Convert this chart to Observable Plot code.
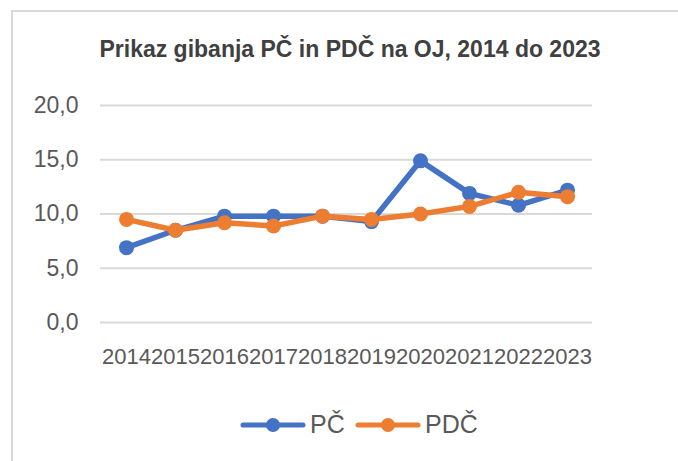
<!DOCTYPE html>
<html>
<head>
<meta charset="utf-8">
<script src="https://cdn.jsdelivr.net/npm/d3@7"></script>
<script src="https://cdn.jsdelivr.net/npm/@observablehq/plot@0.6"></script>
<style>
  html, body { margin: 0; padding: 0; background: #fff; overflow: hidden; }
  #wrap { position: relative; width: 678px; height: 461px; overflow: hidden; background: #fff; }
  #frame { position: absolute; left: 11px; top: 10px; width: 720px; height: 520px; border: 2px solid #d9d9d9; box-sizing: border-box; }
  #title { position: absolute; left: 0; width: 700px; top: 36px; text-align: center;
    font-family: "Liberation Sans", Arial, sans-serif; font-weight: bold; font-size: 23px; color: #404040; }
  #chart { position: absolute; left: 0; top: 0; }
  .item { position: absolute; top: 410px; display: flex; align-items: center;
    font-family: "Liberation Sans", Arial, sans-serif; font-size: 25px; color: #595959; }
  .item svg { margin-right: 4px; }
</style>
</head>
<body>
<div id="wrap">
  <div id="frame"></div>
  <div id="chart"></div>
  <div id="title">Prikaz gibanja PČ in PDČ na OJ, 2014 do 2023</div>
  <div id="legend"></div>
</div>
<script>
const years = ["2014","2015","2016","2017","2018","2019","2020","2021","2022","2023"];
const seriesNames = ["PČ", "PDČ"];
const seriesColors = ["#4472C4", "#ED7D31"];
const pcValues  = [6.9, 8.5, 9.8, 9.8, 9.8, 9.3, 14.9, 11.9, 10.8, 12.2];
const pdcValues = [9.5, 8.5, 9.2, 8.9, 9.8, 9.5, 10.0, 10.7, 12.0, 11.6];
const yTicks = [0, 5, 10, 15, 20];

const pc = years.map((y, i) => ({year: y, value: pcValues[i], series: seriesNames[0]}));
const pdc = years.map((y, i) => ({year: y, value: pdcValues[i], series: seriesNames[1]}));
const fmt = v => d3.format(".1f")(v).replace(".", ",");

const plot = Plot.plot({
  width: 678,
  height: 375,
  marginTop: 105,
  marginBottom: 53,
  marginLeft: 100,
  marginRight: 86,
  style: {fontFamily: '"Liberation Sans", Arial, sans-serif', fontSize: "22px", color: "#595959", background: "transparent", overflow: "visible"},
  x: {type: "point", domain: years, padding: 0.5},
  y: {domain: [0, 20]},
  color: {domain: seriesNames, range: seriesColors},
  marks: [
    Plot.ruleY(yTicks, {stroke: "#d9d9d9", strokeWidth: 2, strokeOpacity: 1}),
    Plot.axisY(yTicks, {tickSize: 0, tickPadding: 22, tickFormat: fmt, label: null, fontSize: 23}),
    Plot.axisX({tickSize: 0, tickPadding: 26, label: null, fontSize: 22}),
    Plot.line(pc, {x: "year", y: "value", stroke: "series", strokeWidth: 5.5}),
    Plot.dot(pc, {x: "year", y: "value", fill: "series", r: 7.5}),
    Plot.line(pdc, {x: "year", y: "value", stroke: "series", strokeWidth: 5.5}),
    Plot.dot(pdc, {x: "year", y: "value", fill: "series", r: 7.5})
  ]
});
document.getElementById("chart").appendChild(plot);

const legend = document.getElementById("legend");
const legendLeft = [240, 355];
seriesNames.forEach((name, i) => {
  const item = document.createElement("div");
  item.className = "item";
  item.style.left = legendLeft[i] + "px";
  item.innerHTML = `<svg width="66" height="20"><line x1="3" y1="10" x2="63" y2="10" stroke="${seriesColors[i]}" stroke-width="5" stroke-linecap="round"/><circle cx="33" cy="10" r="7" fill="${seriesColors[i]}"/></svg><span>${name}</span>`;
  legend.appendChild(item);
});
</script>
</body>
</html>
